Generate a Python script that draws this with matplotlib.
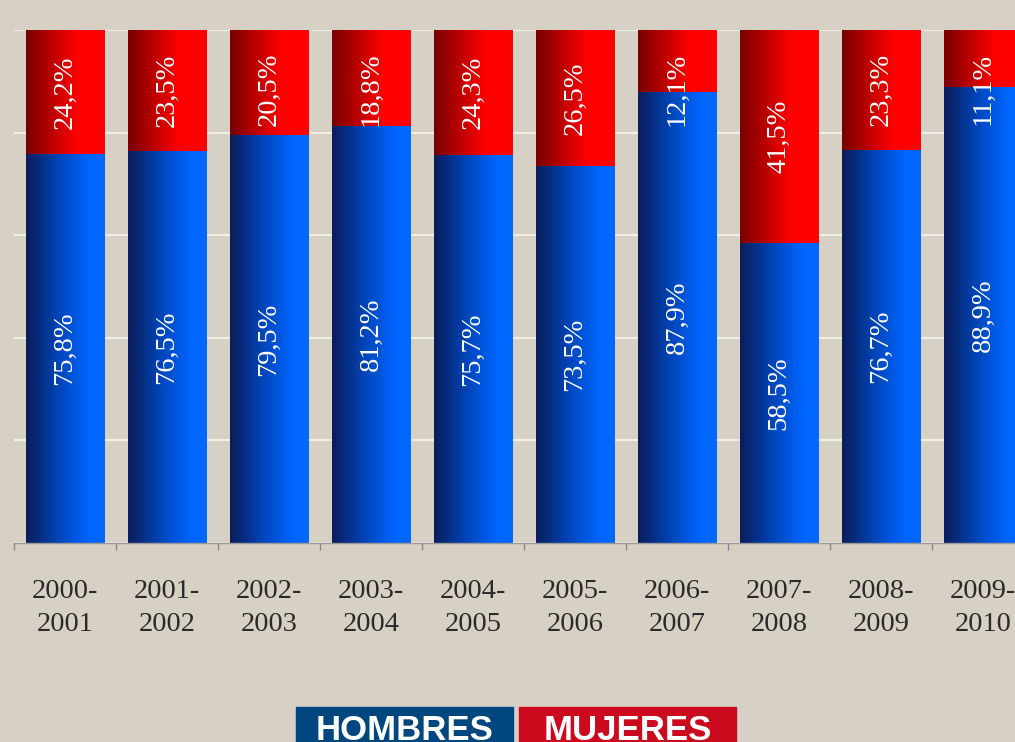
import numpy as np
import matplotlib
matplotlib.use("Agg")
import matplotlib.pyplot as plt
from matplotlib.colors import LinearSegmentedColormap
from matplotlib.patches import Rectangle

# datos (% del total)
cursos = ["2000-\n2001", "2001-\n2002", "2002-\n2003", "2003-\n2004", "2004-\n2005",
          "2005-\n2006", "2006-\n2007", "2007-\n2008", "2008-\n2009", "2009-\n2010"]
hombres = [75.8, 76.5, 79.5, 81.2, 75.7, 73.5, 87.9, 58.5, 76.7, 88.9]
mujeres = [24.2, 23.5, 20.5, 18.8, 24.3, 26.5, 12.1, 41.5, 23.3, 11.1]

fondo = "#d7d0c4"
azul = LinearSegmentedColormap.from_list("azul", [(0, "#0a1d5a"), (0.45, "#0048c0"), (0.8, "#0066ff"), (1, "#0068ff")])
rojo = LinearSegmentedColormap.from_list("rojo", [(0, "#780000"), (0.5, "#e00000"), (0.65, "#ff0000"), (1, "#ff0000")])
grad = np.linspace(0, 1, 256).reshape(1, -1)

fig = plt.figure(figsize=(10.15, 7.42), dpi=100, facecolor=fondo)
ax = fig.add_axes([14 / 1015, 199 / 742, 1020 / 1015, 513 / 742])
ax.set_facecolor(fondo)

x = np.arange(len(cursos))
ancho = 0.765

def barras_gradiente(bars, cmap):
    for b in bars:
        x0, y0 = b.get_x(), b.get_y()
        im = ax.imshow(grad, cmap=cmap, aspect="auto", zorder=2,
                       extent=(x0, x0 + b.get_width(), y0, y0 + b.get_height()))
        im.set_clip_path(b)

b1 = ax.bar(x, hombres, ancho, color="none", linewidth=0, zorder=2)
b2 = ax.bar(x, mujeres, ancho, bottom=hombres, color="none", linewidth=0, zorder=2)
barras_gradiente(b1, azul)
barras_gradiente(b2, rojo)

etiq = dict(rotation=90, ha="center", va="center", color="white",
            family="Liberation Serif", fontsize=20.5, zorder=4)
for i in x:
    ax.text(i, hombres[i] / 2, f"{hombres[i]:.1f}%".replace(".", ","), **etiq)
    ym = min(hombres[i] + mujeres[i] / 2, 88.5)
    ax.text(i, ym, f"{mujeres[i]:.1f}%".replace(".", ","), **etiq)

ax.set_xlim(-0.5, 9.5)
ax.set_ylim(0, 100)
ax.set_yticks([0, 20, 40, 60, 80, 100])
ax.yaxis.grid(True, color="#f2eee8", linewidth=1.5, zorder=1)
ax.set_axisbelow(True)
ax.tick_params(axis="y", left=False, labelleft=False)

ax.set_xticks(x)
ax.set_xticklabels(cursos, family="Liberation Serif", fontsize=20.5, color="#2a2a2a",
                   linespacing=1.4)
ax.set_xticks(np.arange(-0.5, 10, 1), minor=True)
ax.tick_params(axis="x", which="major", length=0, pad=26)
ax.tick_params(axis="x", which="minor", length=5, color="#888888", width=1)

for s in ["top", "right", "left"]:
    ax.spines[s].set_visible(False)
ax.spines["bottom"].set_color("#999999")
ax.spines["bottom"].set_linewidth(1)

# leyenda
for x0, col, txt in [(296, "#00467f", "HOMBRES"), (519, "#cc0a1e", "MUJERES")]:
    fig.patches.append(Rectangle((x0 / 1015, -0.05), 217 / 1015, 0.05 + 35 / 742,
                                 transform=fig.transFigure, color=col, zorder=1))
    fig.text((x0 + 108.5) / 1015, 2 / 742, txt, ha="center", va="baseline",
             color="white", fontsize=25, fontweight="bold", family="Liberation Sans")

fig.savefig("out.png", dpi=100, facecolor=fondo)
